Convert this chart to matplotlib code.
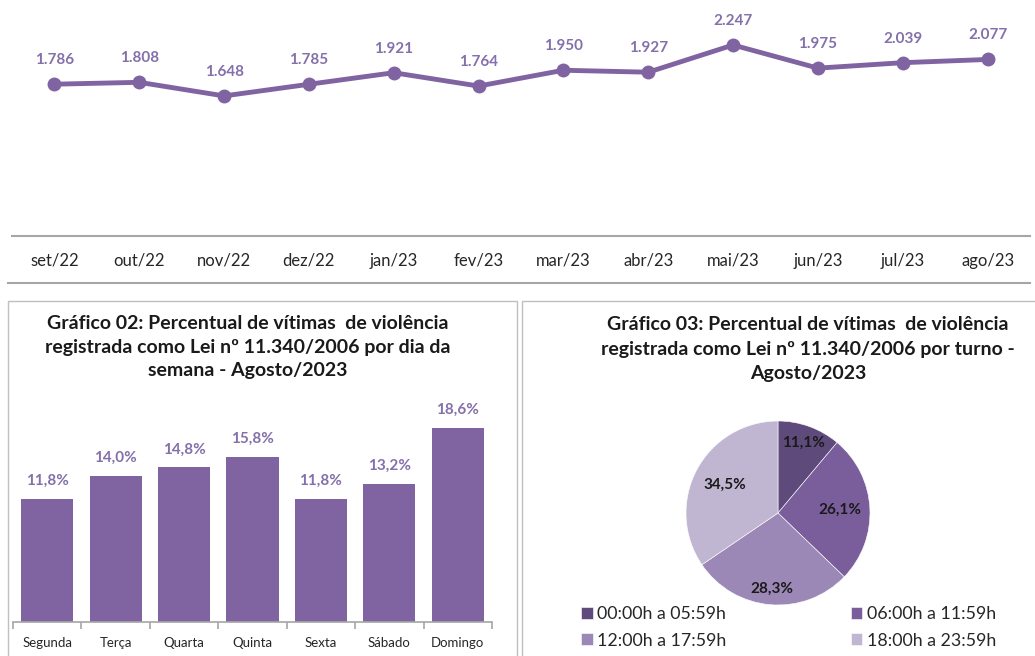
import matplotlib
matplotlib.use("Agg")
import matplotlib.pyplot as plt
from matplotlib.patches import Rectangle
from matplotlib.lines import Line2D
import numpy as np

plt.rcParams['font.family'] = ['Lato', 'DejaVu Sans']

# gráfico 01: total mensal
months = ["set/22", "out/22", "nov/22", "dez/22", "jan/23", "fev/23",
          "mar/23", "abr/23", "mai/23", "jun/23", "jul/23", "ago/23"]
monthly = [1786, 1808, 1648, 1785, 1921, 1764, 1950, 1927, 2247, 1975, 2039, 2077]

# gráfico 02: dia da semana
days = ["Segunda", "Terça", "Quarta", "Quinta", "Sexta", "Sábado", "Domingo"]
day_pct = [11.8, 14.0, 14.8, 15.8, 11.8, 13.2, 18.6]

# gráfico 03: turno
shifts = ["00:00h a 05:59h", "06:00h a 11:59h", "12:00h a 17:59h", "18:00h a 23:59h"]
shift_pct = [11.1, 26.1, 28.3, 34.5]

PURPLE = "#8064A2"
LABEL = "#8470AA"
GRID = "#A6A6A6"
pie_colors = ["#5F4A7C", "#7A5E9B", "#9C88B6", "#C1B6D2"]

W, H = 1035, 656
fig = plt.figure(figsize=(W / 100, H / 100), dpi=100)


def px_axes(x0, y0, x1, y1):
    # pixel box (top-left origin) -> figure axes
    return fig.add_axes([x0 / W, 1 - y1 / H, (x1 - x0) / W, (y1 - y0) / H])


def fmt_thousands(v):
    return f"{v:,}".replace(",", ".")


# ---- line chart
ax = px_axes(12, 0, 1030, 236)
xs = np.arange(len(months))
ax.plot(xs, monthly, color=PURPLE, lw=3.5, marker="o", ms=9, solid_capstyle="round")
for x, v in zip(xs, monthly):
    ax.annotate(fmt_thousands(v), (x, v), xytext=(0, 24), textcoords="offset pixels",
                ha="center", va="center", fontsize=11, fontweight="bold", color=LABEL)
ax.set_xlim(-0.5, len(months) - 0.5)
ax.set_ylim(0, 236 / 85 * 1000)
ax.set_xticks(xs)
ax.set_xticklabels(months, fontsize=12, color="#262626")
ax.tick_params(axis="x", length=0, pad=12)
ax.set_yticks([])
for s in ["top", "left", "right"]:
    ax.spines[s].set_visible(False)
ax.spines["bottom"].set_color(GRID)
ax.spines["bottom"].set_linewidth(1.5)
ax.patch.set_alpha(0)

fig.add_artist(Line2D([8 / W, 1030 / W], [1 - 283 / H, 1 - 283 / H],
                      color=GRID, lw=1.5, transform=fig.transFigure))

# ---- panel boxes
fig.add_artist(Rectangle((8 / W, -0.01), (517 - 8) / W, (H - 301) / H + 0.01,
                         transform=fig.transFigure, fill=False, ec="#BFBFBF", lw=1))
fig.add_artist(Rectangle((522 / W, -0.01), (1040 - 522) / W, (H - 301) / H + 0.01,
                         transform=fig.transFigure, fill=False, ec="#BFBFBF", lw=1))

# ---- bar chart
fig.text(248 / W, 1 - 347 / H,
         "Gráfico 02: Percentual de vítimas  de violência\n"
         "registrada como Lei nº 11.340/2006 por dia da\n"
         "semana - Agosto/2023",
         ha="center", va="center", fontsize=14, fontweight="bold",
         color="#1a1a1a", linespacing=1.45)

bx = px_axes(13, 400, 492, 622)
bpos = np.arange(len(days))
bars = bx.bar(bpos, day_pct, width=0.76, color=PURPLE)
for b, v in zip(bars, day_pct):
    bx.annotate(f"{v:.1f}%".replace(".", ","), (b.get_x() + b.get_width() / 2, v),
                xytext=(0, 18), textcoords="offset pixels", ha="center", va="center",
                fontsize=11, fontweight="bold", color=LABEL)
bx.set_xlim(-0.5, len(days) - 0.5)
bx.set_ylim(0, 222 / 10.45)
bx.set_xticks(bpos)
bx.set_xticklabels(days, fontsize=9.5, color="#262626")
bx.set_xticks(np.arange(-0.5, len(days)), minor=True)
bx.tick_params(axis="x", which="major", length=0, pad=11)
bx.tick_params(axis="x", which="minor", length=5, color=GRID, width=1.2)
bx.set_yticks([])
for s in ["top", "left", "right"]:
    bx.spines[s].set_visible(False)
bx.spines["bottom"].set_color(GRID)
bx.spines["bottom"].set_linewidth(1.2)
bx.patch.set_alpha(0)

# ---- pie chart
fig.text(808 / W, 1 - 349 / H,
         "Gráfico 03: Percentual de vítimas  de violência\n"
         "registrada como Lei nº 11.340/2006 por turno -\n"
         "Agosto/2023",
         ha="center", va="center", fontsize=14, fontweight="bold",
         color="#1a1a1a", linespacing=1.5)

r = 92
px = px_axes(778 - r, 513 - r, 778 + r, 513 + r)
wedges, _ = px.pie(shift_pct, colors=pie_colors, startangle=90, counterclock=False,
                   wedgeprops=dict(linewidth=0.4, edgecolor="white"))
px.set_xlim(-1, 1)
px.set_ylim(-1, 1)
label_r = [0.81, 0.67, 0.83, 0.65]
for w, v, lr in zip(wedges, shift_pct, label_r):
    ang = np.deg2rad((w.theta1 + w.theta2) / 2)
    px.text(lr * np.cos(ang), lr * np.sin(ang), f"{v:.1f}%".replace(".", ","),
            ha="center", va="center", fontsize=11, fontweight="bold", color="#1a1a1a")

# row-wise legend order (matplotlib fills columns first)
order = [0, 2, 1, 3]
leg = fig.legend([wedges[i] for i in order], [shifts[i] for i in order],
                 loc="upper left", bbox_to_anchor=(581 / W, 1 - 606 / H),
                 ncol=2, frameon=False, fontsize=12.8, handlelength=0.65, handleheight=0.65,
                 handletextpad=0.25, columnspacing=7.0, labelspacing=0.6,
                 borderaxespad=0, borderpad=0)
for t in leg.get_texts():
    t.set_color("#262626")

fig.savefig("out.png", dpi=100)
